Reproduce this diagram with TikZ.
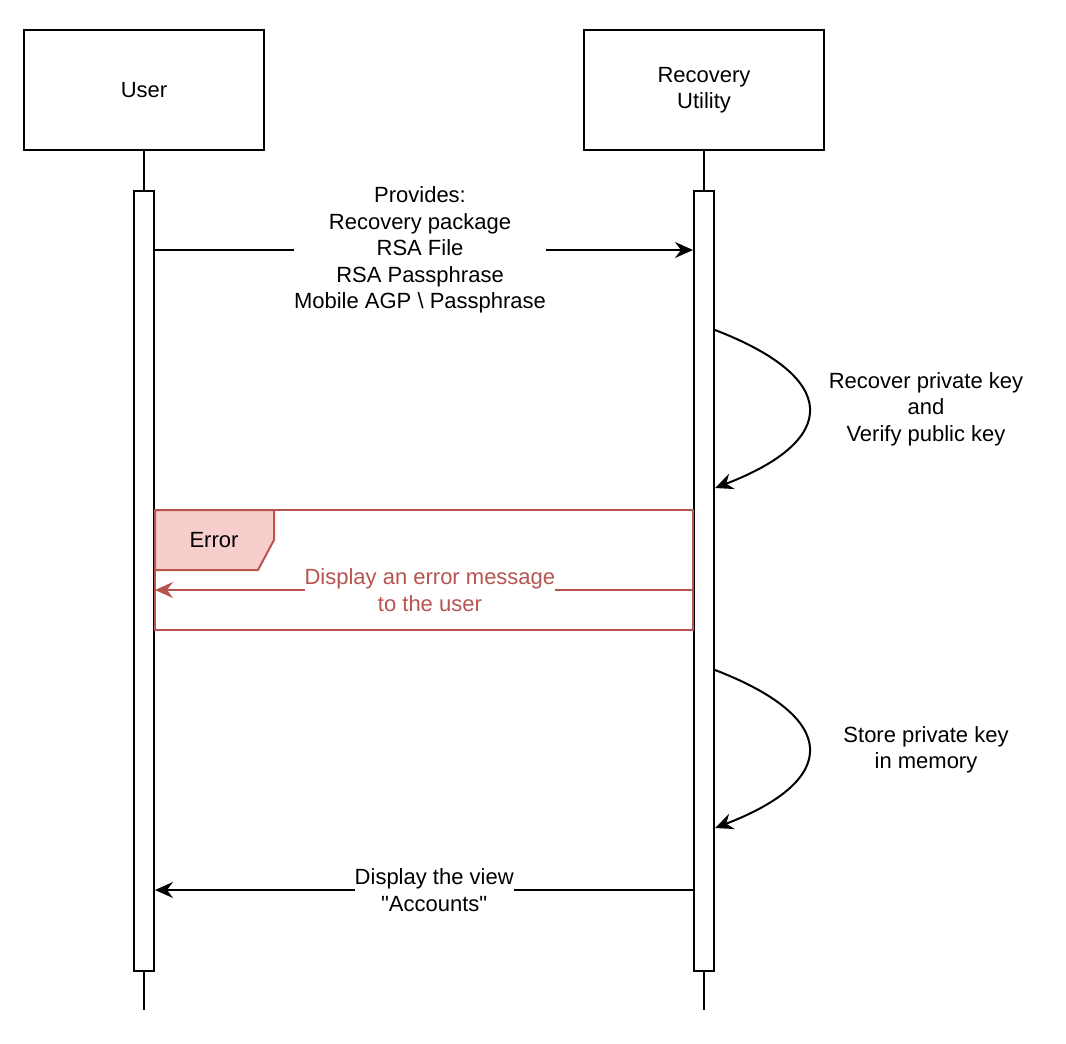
\documentclass[tikz,border=0pt]{standalone}
\usepackage{fontspec}
\setmainfont{Liberation Sans}
\usepackage{tikz}
\usetikzlibrary{arrows.meta, shapes, positioning, calc}
\definecolor{errline}{HTML}{B85450}
\definecolor{errfill}{HTML}{F8CECC}

\begin{document}
\begin{tikzpicture}[x=0.5pt,y=-0.5pt,>={Stealth[length=9pt,width=8pt,inset=3pt]},
            line width=1pt,
            every node/.style={font=\fontsize{11}{13.25}\selectfont},
            actor/.style={draw,fill=white,minimum width=120pt,minimum height=60pt,align=center},
            bar/.style={draw,fill=white,inner sep=0pt,minimum width=10pt,minimum height=390pt,anchor=north},
            msg/.style={->},
            lbl/.style={fill=white,align=center,inner xsep=0pt,inner ysep=1pt},
            note/.style={align=center}]
            \useasboundingbox (0,0) rectangle (1066,1044);
            % participants and lifelines
            \node [actor] (user) at (144,90) {User};
            \node [actor] (util) at (704,90) {Recovery\\Utility};
            \coordinate (uend) at (144,1010);
            \coordinate (rend) at (704,1010);
            \draw (user.south) -- (uend);
            \draw (util.south) -- (rend);
            \node [bar] (ubar) at (144,190) {};
            \node [bar] (rbar) at (704,190) {};
            % messages
            \draw [msg] (ubar.east |- 0,250) -- node [lbl,pos=0.4926] (provides)
               {Provides:\\Recovery package\\RSA File\\RSA Passphrase\\Mobile AGP \textbackslash{} Passphrase}
               (rbar.west |- 0,250);
            \coordinate (l1a) at (rbar.east |- 0,330);
            \coordinate (l1b) at (rbar.east |- 0,488);
            \draw [msg] (l1a) .. controls (840,378) and (840,440) .. (l1b);
            \node [note] (recover) at (926,409) {Recover private key\\and\\Verify public key};
            % error fragment
            \coordinate (fnw) at (ubar.east |- 0,510);
            \coordinate (fse) at (rbar.west |- 0,630);
            \draw [errline] (fnw) rectangle (fse);
            \draw [errline,fill=errfill] (fnw) -- (274,510) -- (274,540) -- (258,570) -- (fnw |- 0,570) -- cycle;
            \node (error) at (214,540) {Error};
            \draw [msg,errline] (rbar.west |- 0,590) -- node [lbl,pos=0.489,text=errline] (errmsg)
               {Display an error message\\to the user} (ubar.east |- 0,590);
            \coordinate (l2a) at (rbar.east |- 0,670);
            \coordinate (l2b) at (rbar.east |- 0,828);
            \draw [msg] (l2a) .. controls (840,718) and (840,780) .. (l2b);
            \node [note] (store) at (926,750) {Store private key\\in memory};
            \draw [msg] (rbar.west |- 0,890) -- node [lbl,pos=0.481] (view)
               {Display the view\\\textquotedbl Accounts\textquotedbl} (ubar.east |- 0,890);
\end{tikzpicture}
\end{document}
